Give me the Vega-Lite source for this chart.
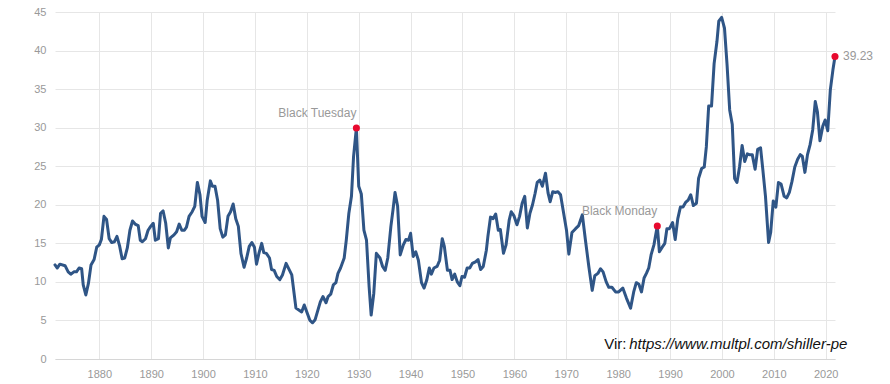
{
  "$schema": "https://vega.github.io/schema/vega-lite/v6.json",
  "width": 780,
  "height": 347,
  "autosize": {"type": "none"},
  "padding": {"left": 55, "top": 12, "right": 55, "bottom": 25},
  "background": "#ffffff",
  "config": {
    "view": {"stroke": null},
    "font": "Liberation Sans",
    "axis": {"labelFont": "Liberation Sans", "labelFontSize": 11, "labelColor": "#999999", "gridColor": "#e6e6e6", "gridWidth": 1, "ticks": false, "title": null, "labelOverlap": false}
  },
  "datasets": {
    "pe": [
      {"year": 1871.46, "pe": 12.2}, {"year": 1871.9, "pe": 11.8}, {"year": 1872.4, "pe": 12.3}, {"year": 1873.4, "pe": 12.1},
      {"year": 1874.0, "pe": 11.3}, {"year": 1874.5, "pe": 11.0}, {"year": 1875.1, "pe": 11.3}, {"year": 1875.6, "pe": 11.3},
      {"year": 1876.1, "pe": 11.8}, {"year": 1876.6, "pe": 11.7}, {"year": 1876.9, "pe": 9.6}, {"year": 1877.4, "pe": 8.3},
      {"year": 1877.9, "pe": 9.8}, {"year": 1878.4, "pe": 12.2}, {"year": 1879.0, "pe": 12.9}, {"year": 1879.5, "pe": 14.5},
      {"year": 1880.0, "pe": 14.8}, {"year": 1880.4, "pe": 15.5}, {"year": 1880.9, "pe": 18.5}, {"year": 1881.4, "pe": 18.1},
      {"year": 1881.9, "pe": 15.6}, {"year": 1882.4, "pe": 15.1}, {"year": 1882.9, "pe": 15.2}, {"year": 1883.4, "pe": 15.9},
      {"year": 1883.9, "pe": 14.7}, {"year": 1884.4, "pe": 13.0}, {"year": 1884.9, "pe": 13.1}, {"year": 1885.4, "pe": 14.4},
      {"year": 1885.9, "pe": 16.7}, {"year": 1886.4, "pe": 17.9}, {"year": 1886.9, "pe": 17.5}, {"year": 1887.5, "pe": 17.3},
      {"year": 1887.9, "pe": 15.4}, {"year": 1888.3, "pe": 15.2}, {"year": 1888.9, "pe": 15.6}, {"year": 1889.4, "pe": 16.7},
      {"year": 1889.9, "pe": 17.2}, {"year": 1890.4, "pe": 17.6}, {"year": 1890.8, "pe": 15.4}, {"year": 1891.4, "pe": 15.6},
      {"year": 1891.8, "pe": 18.9}, {"year": 1892.3, "pe": 19.2}, {"year": 1892.8, "pe": 17.6}, {"year": 1893.3, "pe": 14.4},
      {"year": 1893.7, "pe": 15.7}, {"year": 1894.4, "pe": 16.1}, {"year": 1894.9, "pe": 16.5}, {"year": 1895.4, "pe": 17.5},
      {"year": 1895.9, "pe": 16.7}, {"year": 1896.4, "pe": 16.7}, {"year": 1896.8, "pe": 17.1}, {"year": 1897.3, "pe": 18.5},
      {"year": 1897.9, "pe": 19.1}, {"year": 1898.4, "pe": 19.8}, {"year": 1898.9, "pe": 22.9}, {"year": 1899.4, "pe": 21.3},
      {"year": 1899.8, "pe": 18.5}, {"year": 1900.4, "pe": 17.7}, {"year": 1900.8, "pe": 20.6}, {"year": 1901.4, "pe": 23.1},
      {"year": 1901.8, "pe": 22.4}, {"year": 1902.3, "pe": 22.4}, {"year": 1902.8, "pe": 20.6}, {"year": 1903.3, "pe": 16.9},
      {"year": 1903.8, "pe": 15.8}, {"year": 1904.3, "pe": 16.1}, {"year": 1904.8, "pe": 18.5}, {"year": 1905.3, "pe": 19.1},
      {"year": 1905.8, "pe": 20.1}, {"year": 1906.3, "pe": 18.2}, {"year": 1906.8, "pe": 17.2}, {"year": 1907.3, "pe": 13.7},
      {"year": 1907.9, "pe": 11.9}, {"year": 1908.4, "pe": 13.1}, {"year": 1908.9, "pe": 14.6}, {"year": 1909.4, "pe": 15.1},
      {"year": 1909.9, "pe": 14.5}, {"year": 1910.3, "pe": 12.3}, {"year": 1910.8, "pe": 13.8}, {"year": 1911.3, "pe": 15.0},
      {"year": 1911.7, "pe": 13.8}, {"year": 1912.2, "pe": 13.7}, {"year": 1912.8, "pe": 13.1}, {"year": 1913.2, "pe": 11.6},
      {"year": 1913.7, "pe": 11.5}, {"year": 1914.2, "pe": 10.7}, {"year": 1914.8, "pe": 10.3}, {"year": 1915.3, "pe": 10.9},
      {"year": 1916.0, "pe": 12.4}, {"year": 1917.1, "pe": 10.9}, {"year": 1917.9, "pe": 6.6}, {"year": 1919.0, "pe": 6.1},
      {"year": 1919.5, "pe": 7.0}, {"year": 1920.6, "pe": 5.0}, {"year": 1921.1, "pe": 4.7}, {"year": 1921.6, "pe": 5.1},
      {"year": 1922.6, "pe": 7.4}, {"year": 1923.1, "pe": 8.1}, {"year": 1923.7, "pe": 7.3}, {"year": 1924.1, "pe": 8.1},
      {"year": 1924.6, "pe": 8.4}, {"year": 1925.1, "pe": 9.6}, {"year": 1925.6, "pe": 9.9}, {"year": 1926.0, "pe": 11.1},
      {"year": 1926.5, "pe": 11.8}, {"year": 1927.2, "pe": 13.1}, {"year": 1927.6, "pe": 15.4}, {"year": 1928.1, "pe": 18.9},
      {"year": 1928.6, "pe": 21.1}, {"year": 1929.0, "pe": 26.2}, {"year": 1929.55, "pe": 29.96}, {"year": 1930.0, "pe": 22.4},
      {"year": 1930.5, "pe": 21.4}, {"year": 1931.0, "pe": 16.7}, {"year": 1931.5, "pe": 15.4}, {"year": 1932.0, "pe": 9.4},
      {"year": 1932.4, "pe": 5.7}, {"year": 1932.9, "pe": 8.5}, {"year": 1933.4, "pe": 13.7}, {"year": 1934.1, "pe": 13.1},
      {"year": 1934.6, "pe": 12.0}, {"year": 1935.1, "pe": 11.5}, {"year": 1935.6, "pe": 13.1}, {"year": 1936.2, "pe": 17.2},
      {"year": 1936.6, "pe": 19.3}, {"year": 1937.0, "pe": 21.6}, {"year": 1937.5, "pe": 19.8}, {"year": 1938.0, "pe": 13.5},
      {"year": 1938.6, "pe": 14.8}, {"year": 1939.1, "pe": 15.5}, {"year": 1939.6, "pe": 15.4}, {"year": 1940.0, "pe": 16.3},
      {"year": 1940.5, "pe": 13.3}, {"year": 1941.0, "pe": 13.9}, {"year": 1941.5, "pe": 12.8}, {"year": 1942.1, "pe": 9.9},
      {"year": 1942.6, "pe": 9.2}, {"year": 1943.1, "pe": 10.2}, {"year": 1943.6, "pe": 11.8}, {"year": 1944.0, "pe": 11.0},
      {"year": 1944.5, "pe": 11.8}, {"year": 1945.1, "pe": 12.0}, {"year": 1945.6, "pe": 12.8}, {"year": 1946.1, "pe": 15.6},
      {"year": 1946.5, "pe": 14.6}, {"year": 1947.1, "pe": 11.5}, {"year": 1947.6, "pe": 11.5}, {"year": 1948.0, "pe": 10.3},
      {"year": 1948.5, "pe": 11.0}, {"year": 1949.0, "pe": 10.0}, {"year": 1949.5, "pe": 9.5}, {"year": 1949.9, "pe": 10.7},
      {"year": 1950.4, "pe": 10.6}, {"year": 1950.9, "pe": 11.8}, {"year": 1951.4, "pe": 11.8}, {"year": 1951.9, "pe": 12.4},
      {"year": 1952.5, "pe": 12.6}, {"year": 1953.0, "pe": 12.9}, {"year": 1953.5, "pe": 11.6}, {"year": 1954.0, "pe": 12.0},
      {"year": 1954.6, "pe": 14.1}, {"year": 1954.9, "pe": 15.9}, {"year": 1955.4, "pe": 18.4}, {"year": 1955.9, "pe": 18.2},
      {"year": 1956.4, "pe": 18.8}, {"year": 1956.9, "pe": 16.7}, {"year": 1957.3, "pe": 16.8}, {"year": 1957.9, "pe": 13.7},
      {"year": 1958.4, "pe": 14.8}, {"year": 1959.0, "pe": 18.0}, {"year": 1959.4, "pe": 19.1}, {"year": 1959.9, "pe": 18.6},
      {"year": 1960.5, "pe": 17.4}, {"year": 1961.0, "pe": 18.5}, {"year": 1961.5, "pe": 20.2}, {"year": 1962.0, "pe": 21.1},
      {"year": 1962.5, "pe": 17.0}, {"year": 1963.0, "pe": 18.9}, {"year": 1963.5, "pe": 20.0}, {"year": 1964.0, "pe": 21.5},
      {"year": 1964.4, "pe": 22.9}, {"year": 1964.9, "pe": 23.2}, {"year": 1965.4, "pe": 22.4}, {"year": 1966.0, "pe": 24.1},
      {"year": 1966.5, "pe": 21.5}, {"year": 1966.9, "pe": 20.4}, {"year": 1967.4, "pe": 21.7}, {"year": 1967.9, "pe": 21.6},
      {"year": 1968.4, "pe": 21.7}, {"year": 1968.9, "pe": 21.3}, {"year": 1969.5, "pe": 18.9}, {"year": 1970.05, "pe": 16.7},
      {"year": 1970.5, "pe": 13.6}, {"year": 1971.1, "pe": 16.4}, {"year": 1971.8, "pe": 16.9}, {"year": 1972.4, "pe": 17.3},
      {"year": 1973.1, "pe": 18.7}, {"year": 1973.7, "pe": 15.4}, {"year": 1974.35, "pe": 12.0}, {"year": 1975.0, "pe": 8.9},
      {"year": 1975.5, "pe": 10.8}, {"year": 1976.1, "pe": 11.1}, {"year": 1976.6, "pe": 11.7}, {"year": 1977.1, "pe": 11.3},
      {"year": 1977.7, "pe": 10.0}, {"year": 1978.2, "pe": 9.3}, {"year": 1978.8, "pe": 9.3}, {"year": 1979.5, "pe": 8.7},
      {"year": 1980.1, "pe": 8.7}, {"year": 1980.9, "pe": 9.2}, {"year": 1981.6, "pe": 7.9}, {"year": 1982.4, "pe": 6.6},
      {"year": 1983.0, "pe": 8.7}, {"year": 1983.5, "pe": 9.9}, {"year": 1984.0, "pe": 9.7}, {"year": 1984.5, "pe": 8.7},
      {"year": 1985.0, "pe": 10.5}, {"year": 1985.45, "pe": 11.1}, {"year": 1985.9, "pe": 11.8}, {"year": 1986.35, "pe": 13.5},
      {"year": 1986.9, "pe": 14.8}, {"year": 1987.55, "pe": 17.25}, {"year": 1987.95, "pe": 13.9}, {"year": 1988.5, "pe": 14.5},
      {"year": 1989.0, "pe": 15.0}, {"year": 1989.4, "pe": 16.9}, {"year": 1989.9, "pe": 16.9}, {"year": 1990.5, "pe": 17.7},
      {"year": 1991.0, "pe": 15.5}, {"year": 1991.5, "pe": 18.2}, {"year": 1992.0, "pe": 19.7}, {"year": 1992.5, "pe": 19.7},
      {"year": 1993.0, "pe": 20.3}, {"year": 1993.5, "pe": 20.6}, {"year": 1994.0, "pe": 21.3}, {"year": 1994.5, "pe": 19.9},
      {"year": 1995.1, "pe": 20.2}, {"year": 1995.5, "pe": 23.4}, {"year": 1996.1, "pe": 24.7}, {"year": 1996.6, "pe": 24.9},
      {"year": 1997.0, "pe": 27.5}, {"year": 1997.45, "pe": 32.8}, {"year": 1998.0, "pe": 32.8}, {"year": 1998.5, "pe": 38.3},
      {"year": 1999.05, "pe": 41.2}, {"year": 1999.4, "pe": 43.8}, {"year": 1999.95, "pe": 44.3}, {"year": 2000.5, "pe": 42.9},
      {"year": 2001.0, "pe": 38.1}, {"year": 2001.5, "pe": 32.3}, {"year": 2002.0, "pe": 30.4}, {"year": 2002.45, "pe": 23.4},
      {"year": 2002.9, "pe": 22.9}, {"year": 2003.4, "pe": 24.9}, {"year": 2003.9, "pe": 27.7}, {"year": 2004.4, "pe": 25.6},
      {"year": 2004.9, "pe": 26.6}, {"year": 2005.3, "pe": 26.5}, {"year": 2005.85, "pe": 26.5}, {"year": 2006.4, "pe": 24.6},
      {"year": 2006.9, "pe": 27.2}, {"year": 2007.45, "pe": 27.4}, {"year": 2007.9, "pe": 24.5}, {"year": 2008.4, "pe": 21.1},
      {"year": 2009.0, "pe": 15.1}, {"year": 2009.4, "pe": 16.4}, {"year": 2009.9, "pe": 20.5}, {"year": 2010.4, "pe": 19.7},
      {"year": 2010.9, "pe": 22.9}, {"year": 2011.4, "pe": 22.7}, {"year": 2012.0, "pe": 21.1}, {"year": 2012.5, "pe": 20.9},
      {"year": 2013.0, "pe": 21.6}, {"year": 2013.5, "pe": 23.0}, {"year": 2014.05, "pe": 24.9}, {"year": 2014.6, "pe": 25.9},
      {"year": 2015.1, "pe": 26.5}, {"year": 2015.5, "pe": 26.3}, {"year": 2016.0, "pe": 24.2}, {"year": 2016.5, "pe": 26.5},
      {"year": 2017.0, "pe": 27.8}, {"year": 2017.5, "pe": 29.7}, {"year": 2018.0, "pe": 33.4}, {"year": 2018.4, "pe": 32.1},
      {"year": 2018.9, "pe": 28.3}, {"year": 2019.45, "pe": 30.2}, {"year": 2019.9, "pe": 31.0}, {"year": 2020.4, "pe": 29.6},
      {"year": 2020.9, "pe": 34.9}, {"year": 2021.4, "pe": 37.5}, {"year": 2021.8, "pe": 39.23}
    ],
    "events": [
      {"year": 1929.55, "pe": 29.96, "label": "Black Tuesday", "side": "left"},
      {"year": 1987.55, "pe": 17.25, "label": "Black Monday", "side": "left"},
      {"year": 2021.8, "pe": 39.23, "label": "39.23", "side": "right"}
    ],
    "source": [
      {"year": 1977.32, "pe": 1.95, "label": "Vir:", "style": "normal"},
      {"year": 1982.14, "pe": 1.95, "label": "https://www.multpl.com/shiller-pe", "style": "italic"}
    ]
  },
  "encoding": {
    "x": {"field": "year", "type": "quantitative", "scale": {"domain": [1871.46, 2021.8], "nice": false, "zero": false},
      "axis": {"values": [1880, 1890, 1900, 1910, 1920, 1930, 1940, 1950, 1960, 1970, 1980, 1990, 2000, 2010, 2020], "format": "d", "domainColor": "#d6d6d6", "labelPadding": 9, "labelFlush": false}},
    "y": {"field": "pe", "type": "quantitative", "scale": {"domain": [0, 45], "nice": false, "zero": true},
      "axis": {"values": [0, 5, 10, 15, 20, 25, 30, 35, 40, 45], "tickCount": 10, "domain": false, "labelPadding": 9}}
  },
  "layer": [
    {
      "data": {"name": "pe"},
      "mark": {"type": "line", "color": "#2f5586", "strokeWidth": 3, "strokeJoin": "round", "strokeCap": "round"}
    },
    {
      "data": {"name": "events"},
      "mark": {"type": "point", "filled": true, "color": "#e8092e", "size": 50, "opacity": 1}
    },
    {
      "data": {"name": "events"},
      "transform": [{"filter": "datum.side == 'left'"}],
      "mark": {"type": "text", "align": "right", "baseline": "middle", "dy": -15, "fontSize": 12, "color": "#999999", "font": "Liberation Sans"},
      "encoding": {"text": {"field": "label"}}
    },
    {
      "data": {"name": "events"},
      "transform": [{"filter": "datum.side == 'right'"}],
      "mark": {"type": "text", "align": "left", "baseline": "middle", "dx": 8, "fontSize": 12, "color": "#999999", "font": "Liberation Sans"},
      "encoding": {"text": {"field": "label"}}
    },
    {
      "data": {"name": "source"},
      "transform": [{"filter": "datum.style == 'normal'"}],
      "mark": {"type": "text", "align": "left", "baseline": "middle", "fontSize": 15, "color": "#111111", "font": "Liberation Sans"},
      "encoding": {"text": {"field": "label"}}
    },
    {
      "data": {"name": "source"},
      "transform": [{"filter": "datum.style == 'italic'"}],
      "mark": {"type": "text", "align": "left", "baseline": "middle", "fontSize": 15, "fontStyle": "italic", "color": "#111111", "font": "Liberation Sans"},
      "encoding": {"text": {"field": "label"}}
    }
  ]
}
